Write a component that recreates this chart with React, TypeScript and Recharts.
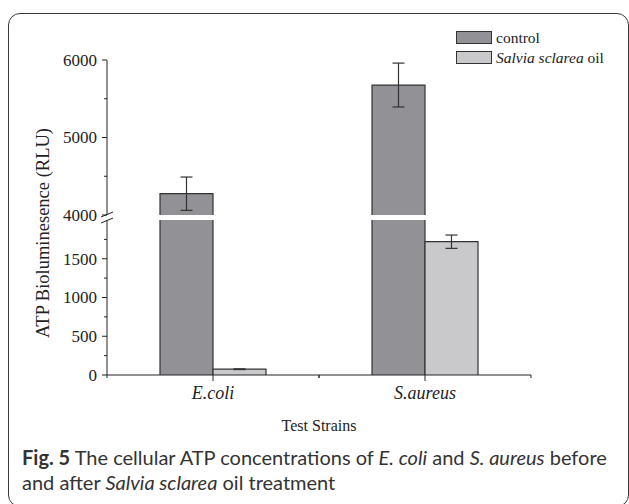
import React from 'react';
import { BarChart, Bar, XAxis, YAxis, ErrorBar, Legend } from 'recharts';

// ---- data ----
const strains = ['E.coli', 'S.aureus'];
const controlValues = [4275, 5677];
const controlErrors = [215, 283];
const oilValues = [75, 1720];
const oilErrors = [5, 86];
const seriesNames = ['control', 'Salvia sclarea oil'];
const seriesColors = ['#929296', '#c9c9cb'];
const italicTerm = 'Salvia sclarea';
const upperDomain = [4000, 6000];
const lowerDomain = [0, 2000];
const upperTicks = [4000, 4500, 5000, 5500, 6000];
const upperMajor = [4000, 5000, 6000];
const lowerTicks = [0, 250, 500, 750, 1000, 1250, 1500, 1750];
const lowerMajor = [0, 500, 1000, 1500];

const data = strains.map((name, i) => ({
  name,
  control: controlValues[i],
  controlErr: controlErrors[i],
  oil: oilValues[i],
  oilErr: oilErrors[i],
}));

// the upper (4000-6000) panel only shows values that reach into it
const upperData = data.map((d) => ({
  ...d,
  control: d.control >= upperDomain[0] ? d.control : null,
  oil: d.oil >= upperDomain[0] ? d.oil : null,
}));

const SERIF = '"Liberation Serif", "Times New Roman", serif';
const INK = '#222';

const YTick = (props: any) => {
  const { x, y, payload, majors } = props;
  const major = majors.includes(payload.value);
  return (
    <g>
      <line x1={x} x2={x - (major ? 5 : 3)} y1={y} y2={y} stroke={INK} strokeWidth={1} />
      {major && (
        <text x={x - 10} y={y} dy="0.35em" textAnchor="end" fontSize={17} fontFamily={SERIF} fill={INK}>
          {payload.value}
        </text>
      )}
    </g>
  );
};

const XTick = (props: any) => {
  const { x, y, payload } = props;
  const half = payload && payload.offset ? payload.offset : 0;
  return (
    <g>
      {half > 0 && <line x1={x - half} x2={x - half} y1={y} y2={y + 3} stroke={INK} strokeWidth={1} />}
      {half > 0 && <line x1={x + half} x2={x + half} y1={y} y2={y + 3} stroke={INK} strokeWidth={1} />}
      <line x1={x} x2={x} y1={y} y2={y + 6} stroke={INK} strokeWidth={1} />
      <text x={x} y={y + 18} dy="0.35em" textAnchor="middle" fontSize={18} fontStyle="italic" fontFamily={SERIF} fill={INK}>
        {payload.value}
      </text>
    </g>
  );
};

const OpenBar = (props: any) => {
  const { x, y, width, height, fill } = props;
  if (width == null || height == null) return null;
  const top = Math.min(y, y + height);
  const h = Math.abs(height);
  const bottom = top + h;
  return (
    <g>
      <rect x={x} y={top} width={width} height={h} fill={fill} />
      <path d={`M${x},${bottom} V${top} H${x + width} V${bottom}`} fill="none" stroke="#333" strokeWidth={1.2} />
    </g>
  );
};

const renderLegend = (props: any) => {
  const payload: any[] = props.payload || [];
  return (
    <div style={{ fontFamily: SERIF, fontSize: 15.5, color: INK, lineHeight: '19.5px' }}>
      {seriesNames.map((name, i) => {
        const entry = payload.find((p: any) => p.value === name) || { value: name, color: seriesColors[i] };
        const label: string = entry.value;
        const idx = label.indexOf(italicTerm);
        return (
          <div key={i} style={{ display: 'flex', alignItems: 'center', height: 19.5, whiteSpace: 'nowrap' }}>
            <span
              style={{
                display: 'inline-block',
                width: 36,
                height: 13,
                background: entry.color,
                border: '1.2px solid #333',
                boxSizing: 'border-box',
                marginRight: 4,
              }}
            />
            {idx >= 0 ? (
              <span>
                <i>{italicTerm}</i>
                {label.slice(idx + italicTerm.length)}
              </span>
            ) : (
              <span>{label}</span>
            )}
          </div>
        );
      })}
    </div>
  );
};

const bars = () => [
  <Bar key="c" dataKey="control" name={seriesNames[0]} fill={seriesColors[0]} shape={<OpenBar />} isAnimationActive={false}>
    <ErrorBar dataKey="controlErr" width={6} stroke="#333" strokeWidth={1.2} direction="y" />
  </Bar>,
  <Bar key="o" dataKey="oil" name={seriesNames[1]} fill={seriesColors[1]} shape={<OpenBar />} isAnimationActive={false}>
    <ErrorBar dataKey="oilErr" width={6} stroke="#333" strokeWidth={1.2} direction="y" />
  </Bar>,
];

export default function App() {
  return (
    <div style={{ position: 'absolute', left: 0, top: 0, width: 629, height: 504, background: '#fff', overflow: 'hidden' }}>
      {/* frame */}
      <div
        style={{
          position: 'absolute',
          left: 8,
          top: 13,
          width: 621,
          height: 494,
          border: '1.5px solid #3a3a3a',
          borderRadius: 12,
          boxSizing: 'border-box',
        }}
      />
      {/* upper part of broken axis */}
      <div style={{ position: 'absolute', left: 0, top: 0 }}>
        <BarChart
          width={629}
          height={226}
          data={upperData}
          margin={{ top: 60, right: 98, bottom: 11, left: 0 }}
          barCategoryGap="25%"
          barGap={0}
        >
          <XAxis dataKey="name" hide height={0} />
          <YAxis
            type="number"
            width={107}
            domain={upperDomain}
            ticks={upperTicks}
            allowDataOverflow
            interval={0}
            tickSize={0}
            tickMargin={0}
            tickLine={false}
            axisLine={{ stroke: INK, strokeWidth: 1 }}
            tick={<YTick majors={upperMajor} />}
          />
          {bars()}
          <Legend
            layout="horizontal"
            verticalAlign="middle"
            align="center"
            content={renderLegend}
            wrapperStyle={{ left: 456, top: 28, width: 170 }}
          />
        </BarChart>
      </div>
      {/* lower part of broken axis */}
      <div style={{ position: 'absolute', left: 0, top: 200 }}>
        <BarChart
          width={629}
          height={230}
          data={data}
          margin={{ top: 20, right: 98, bottom: 0, left: 0 }}
          barCategoryGap="25%"
          barGap={0}
        >
          <XAxis
            dataKey="name"
            interval={0}
            tickSize={0}
            tickMargin={0}
            tickLine={false}
            height={55}
            axisLine={{ stroke: INK, strokeWidth: 1 }}
            tick={<XTick />}
          />
          <YAxis
            type="number"
            width={107}
            domain={lowerDomain}
            ticks={lowerTicks}
            allowDataOverflow
            interval={0}
            tickSize={0}
            tickMargin={0}
            tickLine={false}
            axisLine={{ stroke: INK, strokeWidth: 1 }}
            tick={<YTick majors={lowerMajor} />}
          />
          {bars()}
        </BarChart>
      </div>
      {/* axis titles and break marks */}
      <svg style={{ position: 'absolute', left: 0, top: 0 }} width={629} height={504}>
        <line x1={101} y1={217} x2={113} y2={212} stroke={INK} strokeWidth={1} />
        <line x1={101} y1={223} x2={113} y2={218} stroke={INK} strokeWidth={1} />
        <text
          x={43}
          y={233}
          transform="rotate(-90 43 233)"
          textAnchor="middle"
          dy="0.35em"
          fontSize={18.5}
          fontFamily={SERIF}
          fill={INK}
        >
          ATP Bioluminesence (RLU)
        </text>
        <text x={319} y={425} textAnchor="middle" dy="0.35em" fontSize={16} fontFamily={SERIF} fill={INK}>
          Test Strains
        </text>
      </svg>
      {/* caption */}
      <div
        style={{
          position: 'absolute',
          left: 22,
          top: 445,
          fontFamily: 'Lato, "Open Sans", sans-serif',
          fontSize: 20,
          lineHeight: '25px',
          color: '#333',
          whiteSpace: 'nowrap',
        }}
      >
        <div>
          <b>Fig. 5</b> The cellular ATP concentrations of <i>E. coli</i> and <i>S. aureus</i> before
        </div>
        <div>
          and after <i>Salvia sclarea</i> oil treatment
        </div>
      </div>
    </div>
  );
}
